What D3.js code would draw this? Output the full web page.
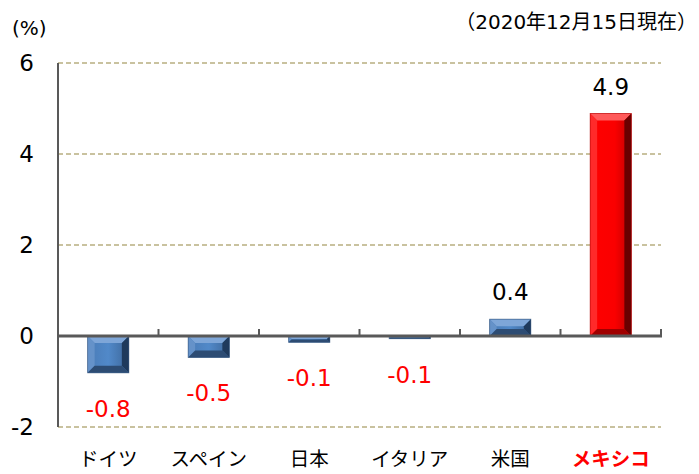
<!DOCTYPE html>
<html><head><meta charset="utf-8">
<script src="https://cdn.jsdelivr.net/npm/d3@7"></script>
<style>body{margin:0;background:#fff;}svg{display:block;}</style>
</head><body>
<svg id="c" width="699" height="474"></svg>
<script>
const categories = ["ドイツ","スペイン","日本","イタリア","米国","メキシコ"];
const values = [-0.81, -0.47, -0.14, -0.06, 0.37, 4.89];
const labels = ["-0.8","-0.5","-0.1","-0.1","0.4","4.9"];
const yTicks = [-2, 0, 2, 4, 6];
const highlight = "メキシコ";

(function () {
const svg = d3.select("#c");
const pL = 58, pR = 661, pT = 63, pB = 427;
const x = d3.scaleBand().domain(categories).range([pL, pR]).paddingInner(0.59).paddingOuter(0.295);
const y = d3.scaleLinear().domain([-2, 6]).range([pB, pT]);
const band = (pR - pL) / categories.length;

// gridlines
svg.append("g").selectAll("line").data(yTicks.filter(d => d !== 0)).join("line")
  .attr("x1", pL).attr("x2", pR).attr("y1", d => y(d)).attr("y2", d => y(d))
  .attr("stroke", "#c9c29f").attr("stroke-width", 2).attr("stroke-dasharray", "5,3");

// y axis line
svg.append("line").attr("x1", pL).attr("x2", pL).attr("y1", pT).attr("y2", pB)
  .attr("stroke", "#595959").attr("stroke-width", 2);

// y tick labels
svg.append("g").selectAll("text").data(yTicks).join("text")
  .attr("x", 34).attr("y", d => y(d)).attr("dy", "0.36em").attr("text-anchor", "end")
  .attr("font-family", "DejaVu Sans, Verdana, sans-serif").attr("font-size", 23).attr("fill", "#000")
  .text(d => d);

// gradients
const defs = svg.append("defs");
function grad(id, stops) {
  const g = defs.append("linearGradient").attr("id", id).attr("x1", 0).attr("x2", 1).attr("y1", 0).attr("y2", 0);
  stops.forEach(s => g.append("stop").attr("offset", s[0]).attr("stop-color", s[1]));
}
grad("gBlue", [[0, "#4a7bb6"], [0.5, "#5189c9"], [1, "#3c6699"]]);
grad("gRed", [[0, "#ff0000"], [0.6, "#fa0000"], [1, "#c00000"]]);

const pal = {
  blue: {fill: "url(#gBlue)", top: "#7ea6d8", left: "#6592c9", right: "#1f3a5c", bottom: "#2d4c73", stroke: "#2f5078"},
  red: {fill: "url(#gRed)", top: "#ff5a5a", left: "#ff2a2a", right: "#6a0000", bottom: "#a00000", stroke: "#b00000"}
};

const bars = svg.append("g");
categories.forEach((c, i) => {
  const v = values[i];
  const p = c === highlight ? pal.red : pal.blue;
  const bx = x(c), bw = x.bandwidth();
  const y0 = y(Math.max(0, v)), y1 = y(Math.min(0, v));
  const h = y1 - y0;
  const b = Math.min(7, h / 2.2);
  const g = bars.append("g");
  g.append("rect").attr("x", bx).attr("y", y0).attr("width", bw).attr("height", h).attr("fill", p.fill);
  const X0 = bx, X1 = bx + bw, Y0 = y0, Y1 = y1;
  const poly = (pts, col) => g.append("polygon").attr("points", pts.map(q => q.join(",")).join(" ")).attr("fill", col);
  poly([[X0,Y0],[X1,Y0],[X1-b,Y0+b],[X0+b,Y0+b]], p.top);
  poly([[X0,Y0],[X0+b,Y0+b],[X0+b,Y1-b],[X0,Y1]], p.left);
  poly([[X1,Y0],[X1,Y1],[X1-b,Y1-b],[X1-b,Y0+b]], p.right);
  poly([[X0,Y1],[X0+b,Y1-b],[X1-b,Y1-b],[X1,Y1]], p.bottom);
  g.append("rect").attr("x", bx).attr("y", y0).attr("width", bw).attr("height", h)
    .attr("fill", "none").attr("stroke", p.stroke).attr("stroke-width", 0.8).attr("opacity", 0.7);
});

// zero line and ticks
svg.append("line").attr("x1", pL).attr("x2", pR + 1).attr("y1", y(0)).attr("y2", y(0))
  .attr("stroke", "#595959").attr("stroke-width", 3);
svg.append("g").selectAll("line").data(d3.range(1, categories.length + 1)).join("line")
  .attr("x1", i => pL + i * band).attr("x2", i => pL + i * band)
  .attr("y1", y(0)).attr("y2", y(0) - 7)
  .attr("stroke", "#595959").attr("stroke-width", 2);

// value labels
svg.append("g").selectAll("text").data(categories).join("text")
  .attr("x", c => x(c) + x.bandwidth() / 2)
  .attr("y", (c, i) => values[i] >= 0 ? y(values[i]) - 19 : y(values[i]) + 44)
  .attr("text-anchor", "middle")
  .attr("font-family", "DejaVu Sans, Verdana, sans-serif").attr("font-size", 23)
  .attr("fill", (c, i) => values[i] >= 0 ? "#000" : "#ff0000")
  .text((c, i) => labels[i]);

// category labels
svg.append("g").selectAll("text").data(categories).join("text")
  .attr("x", c => x(c) + x.bandwidth() / 2).attr("y", 466)
  .attr("text-anchor", "middle")
  .attr("font-family", "Noto Sans CJK JP, sans-serif").attr("font-size", 19.5)
  .attr("font-weight", c => c === highlight ? "bold" : "normal")
  .attr("fill", c => c === highlight ? "#ff0000" : "#000")
  .text(c => c);

// unit label and date
svg.append("text").attr("x", 12).attr("y", 35)
  .attr("font-family", "DejaVu Sans, Verdana, sans-serif").attr("font-size", 20).attr("fill", "#000").text("(%)");
svg.append("text").attr("x", 697).attr("y", 29).attr("text-anchor", "end")
  .attr("font-family", "DejaVu Sans, Noto Sans CJK JP, sans-serif").attr("font-size", 20).attr("fill", "#000").text("（2020年12月15日現在）");
})();
</script>
</body></html>
